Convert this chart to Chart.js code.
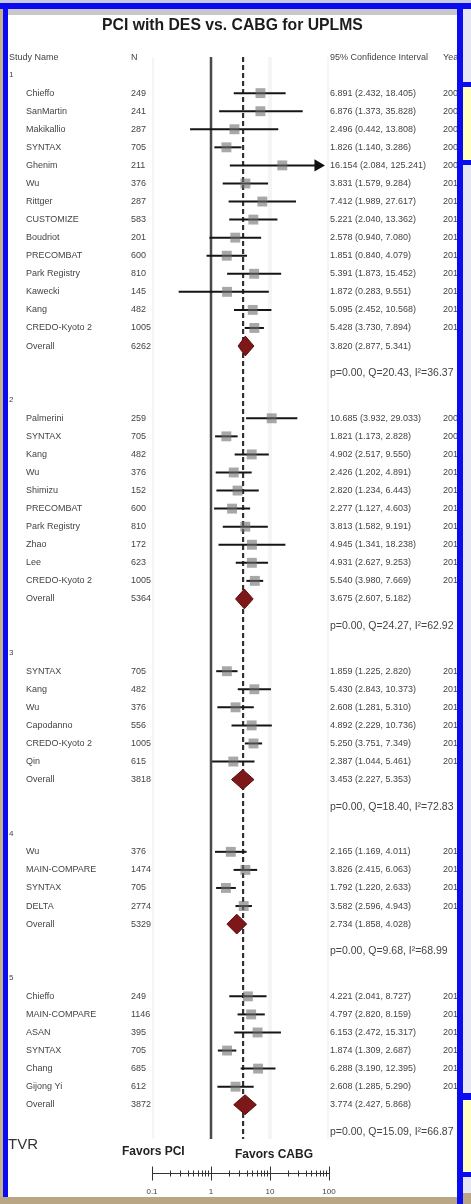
<!DOCTYPE html>
<html lang="en">
<head>
<meta charset="utf-8" />
<title>PCI with DES vs. CABG for UPLMS</title>
<script src="https://cdn.jsdelivr.net/npm/chart.js@4"></script>
<style>
  html, body { margin: 0; padding: 0; }
  body { width: 471px; height: 1204px; position: relative; overflow: hidden; background: #b8a684; }
  .blk { position: absolute; }
  #forest { position: absolute; left: 0; top: 0; z-index: 1; }
</style>
</head>
<body>
<!-- slide frame -->
<div class="blk" style="left:0;top:0;width:471px;height:3px;background:#c9cde4"></div>
<div class="blk" style="left:0;top:3px;width:3px;height:1194px;background:#c4b28a"></div>
<div class="blk" style="left:0;top:3px;width:471px;height:6px;background:#0b0bf2"></div>
<div class="blk" style="left:3px;top:3px;width:5px;height:1194px;background:#0b0bf2"></div>
<div class="blk" style="left:8px;top:9px;width:449px;height:1188px;background:#fff"></div>
<div class="blk" style="left:8px;top:9px;width:449px;height:6px;background:#c9c7cc"></div>
<div class="blk" style="left:463px;top:9px;width:8px;height:1195px;background:#e6e6f2"></div>
<div class="blk" style="left:463px;top:82px;width:8px;height:83px;background:#0b0bf2"></div>
<div class="blk" style="left:463px;top:87px;width:8px;height:73px;background:#ffffc2"></div>
<div class="blk" style="left:463px;top:1093px;width:8px;height:84px;background:#0b0bf2"></div>
<div class="blk" style="left:463px;top:1100px;width:8px;height:72px;background:#ffffc2"></div>
<div class="blk" style="left:463px;top:1193px;width:8px;height:11px;background:#b8a684"></div>
<div class="blk" style="left:457px;top:3px;width:6px;height:1201px;background:#0b0bf2;z-index:2"></div>

<canvas id="forest" width="471" height="1204"></canvas>

<script>
  // ---- data ----
  const titleText = 'PCI with DES vs. CABG for UPLMS';
  const headerLabels = ['Study Name', 'N', '95% Confidence Interval', 'Year'];
  const groupLabels = ['1', '2', '3', '4', '5'];
  const groupSizes = [14, 10, 6, 4, 6];

  const studyNames = [
    'Chieffo', 'SanMartin', 'Makikallio', 'SYNTAX', 'Ghenim', 'Wu', 'Rittger', 'CUSTOMIZE', 'Boudriot', 'PRECOMBAT', 'Park Registry', 'Kawecki', 'Kang', 'CREDO-Kyoto 2',
    'Palmerini', 'SYNTAX', 'Kang', 'Wu', 'Shimizu', 'PRECOMBAT', 'Park Registry', 'Zhao', 'Lee', 'CREDO-Kyoto 2',
    'SYNTAX', 'Kang', 'Wu', 'Capodanno', 'CREDO-Kyoto 2', 'Qin',
    'Wu', 'MAIN-COMPARE', 'SYNTAX', 'DELTA',
    'Chieffo', 'MAIN-COMPARE', 'ASAN', 'SYNTAX', 'Chang', 'Gijong Yi'
  ];
  const studyN = [
    249, 241, 287, 705, 211, 376, 287, 583, 201, 600, 810, 145, 482, 1005,
    259, 705, 482, 376, 152, 600, 810, 172, 623, 1005,
    705, 482, 376, 556, 1005, 615,
    376, 1474, 705, 2774,
    249, 1146, 395, 705, 685, 612
  ];
  const studyOR = [
    6.891, 6.876, 2.496, 1.826, 16.154, 3.831, 7.412, 5.221, 2.578, 1.851, 5.391, 1.872, 5.095, 5.428,
    10.685, 1.821, 4.902, 2.426, 2.820, 2.277, 3.813, 4.945, 4.931, 5.540,
    1.859, 5.430, 2.608, 4.892, 5.250, 2.387,
    2.165, 3.826, 1.792, 3.582,
    4.221, 4.797, 6.153, 1.874, 6.288, 2.608
  ];
  const studyLo = [
    2.432, 1.373, 0.442, 1.140, 2.084, 1.579, 1.989, 2.040, 0.940, 0.840, 1.873, 0.283, 2.452, 3.730,
    3.932, 1.173, 2.517, 1.202, 1.234, 1.127, 1.582, 1.341, 2.627, 3.980,
    1.225, 2.843, 1.281, 2.229, 3.751, 1.044,
    1.169, 2.415, 1.220, 2.596,
    2.041, 2.820, 2.472, 1.309, 3.190, 1.285
  ];
  const studyHi = [
    18.405, 35.828, 13.808, 3.286, 125.241, 9.284, 27.617, 13.362, 7.080, 4.079, 15.452, 9.551, 10.568, 7.894,
    29.033, 2.828, 9.550, 4.891, 6.443, 4.603, 9.191, 18.238, 9.253, 7.669,
    2.820, 10.373, 5.310, 10.736, 7.349, 5.461,
    4.011, 6.063, 2.633, 4.943,
    8.727, 8.159, 15.317, 2.687, 12.395, 5.290
  ];
  const studyYear = [
    2006, 2008, 2008, 2009, 2009, 2010, 2011, 2011, 2011, 2011, 2011, 2012, 2012, 2013,
    2009, 2009, 2012, 2010, 2010, 2011, 2011, 2011, 2012, 2013,
    2010, 2012, 2010, 2011, 2013, 2013,
    2010, 2010, 2013, 2013,
    2010, 2011, 2012, 2014, 2015, 2015
  ];

  const overallN = [6262, 5364, 3818, 5329, 3872];
  const overallOR = [3.820, 3.675, 3.453, 2.734, 3.774];
  const overallLo = [2.877, 2.607, 2.227, 1.858, 2.427];
  const overallHi = [5.341, 5.182, 5.353, 4.028, 5.868];
  const hetP = [0.00, 0.00, 0.00, 0.00, 0.00];
  const hetQ = [20.43, 24.27, 18.40, 9.68, 15.09];
  const hetI2 = [36.37, 62.92, 72.83, 68.99, 66.87];

  const pooledEffect = 3.5;  // dashed line
  const axisTicks = [0.1, 1, 10, 100];
  const axisTickLabels = ['0.1', '1', '10', '100'];
  const favorsLabels = ['Favors PCI', 'Favors CABG'];
  const outcomeLabel = 'TVR';

  // ---- row layout ----
  const studyRow = [], groupRow = [], overallRow = [], statsRow = [];
  let r = 0;
  groupSizes.forEach((size, g) => {
    groupRow.push(r - 1);
    for (let k = 0; k < size; k++) studyRow.push(r++);
    overallRow.push(r);
    statsRow.push(r + 1.5);
    r += 4;
  });
  const headerRow = -1.95;
  const lineTopRow = -2;
  const lineEndRow = 57.9;
  const axisRow = 59.8;
  const plotMax = 65;   // CI lines beyond this get an arrow

  // ---- datasets ----
  const datasets = [];
  const seg = (pts, color, width, order, dash) => ({
    data: pts, showLine: true, pointRadius: 0, borderColor: color,
    borderWidth: width, borderDash: dash || [], order: order, fill: false
  });

  axisTicks.filter(v => v !== 1).forEach(v => {
    datasets.push(seg([{x: v, y: lineTopRow}, {x: v, y: lineEndRow}], 'rgba(0,0,0,0.04)', 4, 9));
  });
  datasets.push(seg([{x: 1, y: lineTopRow}, {x: 1, y: lineEndRow}], '#4a4a4a', 2.5, 8));
  datasets.push(seg([{x: pooledEffect, y: lineTopRow}, {x: pooledEffect, y: lineEndRow}], '#333', 2.2, 7, [5, 3]));

  studyNames.forEach((nm, i) => {
    const row = studyRow[i];
    datasets.push(seg([{x: studyLo[i], y: row}, {x: Math.min(studyHi[i], plotMax), y: row}], '#151515', 2, 4));
  });

  datasets.push({
    data: studyOR.map((v, i) => ({x: v, y: studyRow[i]})),
    pointStyle: 'rect', pointRadius: 7, borderWidth: 0,
    backgroundColor: 'rgba(110,110,110,0.6)', order: 3
  });

  datasets.push({
    data: studyHi.map((v, i) => v > plotMax ? {x: plotMax, y: studyRow[i]} : null).filter(Boolean),
    pointStyle: 'triangle', rotation: 90, pointRadius: 7, borderWidth: 0,
    backgroundColor: '#111', order: 3
  });

  overallOR.forEach((v, g) => {
    const row = overallRow[g];
    datasets.push({
      data: [
        {x: overallLo[g], y: row}, {x: v, y: row - 0.55},
        {x: overallHi[g], y: row}, {x: v, y: row + 0.55}, {x: overallLo[g], y: row}
      ],
      showLine: true, pointRadius: 0, borderColor: '#5c0d0d', borderWidth: 1,
      backgroundColor: '#7e1818', fill: 'shape', order: 1
    });
  });

  // ---- text and axis ----
  const forestText = {
    id: 'forestText',
    afterDraw(chart) {
      const {ctx, scales: {x, y}} = chart;
      ctx.save();
      ctx.beginPath();
      ctx.rect(8, 9, 449, 1188);
      ctx.clip();
      ctx.textBaseline = 'middle';

      // title, fitted to its width in the picture
      ctx.fillStyle = '#1c1c1c';
      ctx.font = 'bold 16px "Liberation Sans"';
      const tw = ctx.measureText(titleText).width;
      ctx.font = 'bold ' + (16 * 261 / tw).toFixed(2) + 'px "Liberation Sans"';
      ctx.textAlign = 'left';
      ctx.fillText(titleText, 102, 26);

      ctx.fillStyle = '#444';
      ctx.font = '9px "Liberation Sans"';
      const hy = y.getPixelForValue(headerRow);
      ctx.fillText(headerLabels[0], 9, hy);
      ctx.fillText(headerLabels[1], 131, hy);
      ctx.fillText(headerLabels[2], 330, hy);
      ctx.fillText(headerLabels[3], 443, hy);

      groupLabels.forEach((lab, g) => {
        ctx.font = '8px "Liberation Sans"';
        ctx.fillText(lab, 9, y.getPixelForValue(groupRow[g]));
        ctx.font = '9px "Liberation Sans"';
        const oy = y.getPixelForValue(overallRow[g]);
        ctx.fillText('Overall', 26, oy);
        ctx.fillText(String(overallN[g]), 131, oy);
        ctx.fillText(overallOR[g].toFixed(3) + ' (' + overallLo[g].toFixed(3) + ', ' + overallHi[g].toFixed(3) + ')', 330, oy);
        ctx.font = '10.5px "Liberation Sans"';
        ctx.fillText('p=' + hetP[g].toFixed(2) + ', Q=' + hetQ[g].toFixed(2) + ', I\u00B2=' + hetI2[g].toFixed(2), 330, y.getPixelForValue(statsRow[g]));
      });

      ctx.font = '9px "Liberation Sans"';
      studyNames.forEach((nm, i) => {
        const sy = y.getPixelForValue(studyRow[i]);
        ctx.fillText(nm, 26, sy);
        ctx.fillText(String(studyN[i]), 131, sy);
        ctx.fillText(studyOR[i].toFixed(3) + ' (' + studyLo[i].toFixed(3) + ', ' + studyHi[i].toFixed(3) + ')', 330, sy);
        ctx.fillText(String(studyYear[i]), 443, sy);
      });

      ctx.fillStyle = '#333';
      ctx.font = '15px "Liberation Sans"';
      ctx.fillText(outcomeLabel, 8, y.getPixelForValue(58.2));
      ctx.fillStyle = '#222';
      ctx.font = 'bold 12px "Liberation Sans"';
      ctx.fillText(favorsLabels[0], 122, y.getPixelForValue(58.6));
      ctx.fillText(favorsLabels[1], 235, y.getPixelForValue(58.75));

      // bottom axis
      const ay = Math.round(y.getPixelForValue(axisRow)) + 0.5;
      ctx.strokeStyle = '#333';
      ctx.lineWidth = 1;
      ctx.beginPath();
      ctx.moveTo(x.getPixelForValue(axisTicks[0]), ay);
      ctx.lineTo(x.getPixelForValue(axisTicks[axisTicks.length - 1]), ay);
      axisTicks.forEach((v, k) => {
        const px = Math.round(x.getPixelForValue(v)) + 0.5;
        ctx.moveTo(px, ay - 7);
        ctx.lineTo(px, ay + 7);
        if (k < axisTicks.length - 1) {
          for (let m = 2; m <= 9; m++) {
            const mx = Math.round(x.getPixelForValue(v * m)) + 0.5;
            ctx.moveTo(mx, ay - 3);
            ctx.lineTo(mx, ay + 3);
          }
        }
      });
      ctx.stroke();

      ctx.fillStyle = '#444';
      ctx.font = '8px "Liberation Sans"';
      ctx.textAlign = 'center';
      axisTickLabels.forEach((lab, k) => {
        ctx.fillText(lab, x.getPixelForValue(axisTicks[k]), ay + 18);
      });
      ctx.restore();
    }
  };

  Chart.defaults.font.family = '"Liberation Sans", Arial, sans-serif';

  new Chart(document.getElementById('forest'), {
    type: 'scatter',
    data: { datasets: datasets },
    options: {
      responsive: false,
      animation: false,
      events: [],
      layout: { padding: { left: 152, right: 142, top: 57, bottom: 27 } },
      plugins: { legend: { display: false }, tooltip: { enabled: false }, title: { display: false } },
      scales: {
        x: { type: 'logarithmic', min: 0.1, max: 100, display: false },
        y: { type: 'linear', min: -2, max: 60, reverse: true, display: false }
      }
    },
    plugins: [forestText]
  });
</script>
</body>
</html>
